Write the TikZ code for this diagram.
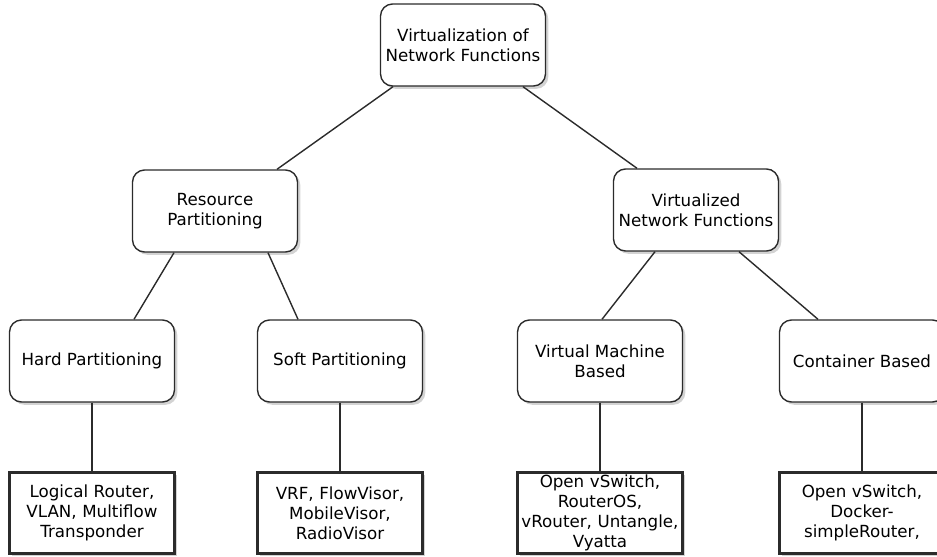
\documentclass[tikz,border=0pt]{standalone}
\usepackage{fontspec}
\setmainfont{DejaVu Sans}
\usepackage{tikz}
\usetikzlibrary{shadows}
\definecolor{linecolor}{HTML}{2B2B2B}

\begin{document}
\begin{tikzpicture}[x=0.02cm, y=-0.02cm,
  font=\fontsize{9.5}{11.5}\selectfont,
  catbox/.style={draw=linecolor, line width=0.8pt, fill=white, rounded corners=0.24cm,
    minimum width=3.3cm, minimum height=1.64cm, inner sep=0pt, align=center,
    drop shadow={shadow xshift=1.6pt, shadow yshift=-1.6pt, opacity=.35}},
  leafbox/.style={draw=linecolor, line width=1.6pt, fill=white,
    minimum width=3.3cm, minimum height=1.62cm, inner sep=0pt,
    text width=3.2cm, align=center,
    drop shadow={shadow xshift=1.6pt, shadow yshift=-1.6pt, opacity=.35}},
  link/.style={draw=linecolor, line width=0.8pt}]
  \useasboundingbox (0,0) rectangle (937,557);
  % top level
  \node[catbox] (root) at (463,45) {Virtualization of\\Network Functions};
  % second level
  \node[catbox] (res) at (215,211) {Resource\\Partitioning};
  \node[catbox] (vnf) at (696,210) {Virtualized\\Network Functions};
  % third level
  \node[catbox] (hard) at (92,361) {Hard Partitioning};
  \node[catbox] (soft) at (340,361) {Soft Partitioning};
  \node[catbox] (vm) at (600,361) {Virtual Machine\\Based};
  \node[catbox] (cont) at (862,361) {Container Based};
  % examples
  \node[leafbox] (hardex) at (92,513) {Logical Router,\\VLAN, Multiflow\\Transponder};
  \node[leafbox] (softex) at (340,513) {VRF, FlowVisor,\\MobileVisor,\\RadioVisor};
  \node[leafbox] (vmex) at (600,513) {Open vSwitch,\\RouterOS,\\vRouter, Untangle,\\Vyatta};
  \node[leafbox] (contex) at (862,513) {Open vSwitch,\\Docker-\\simpleRouter,};
  % links
  \draw[link] ([xshift=-1.4cm]root.south) -- ([xshift=1.24cm]res.north);
  \draw[link] ([xshift=1.2cm]root.south) -- ([xshift=-1.18cm]vnf.north);
  \draw[link] ([xshift=-0.82cm]res.south) -- ([xshift=0.84cm]hard.north);
  \draw[link] ([xshift=1.06cm]res.south) -- ([xshift=-0.84cm]soft.north);
  \draw[link] ([xshift=-0.82cm]vnf.south) -- ([xshift=0.04cm]vm.north);
  \draw[link] ([xshift=0.86cm]vnf.south) -- ([xshift=-0.88cm]cont.north);
  \draw[link] (hard) -- (hardex);
  \draw[link] (soft) -- (softex);
  \draw[link] (vm) -- (vmex);
  \draw[link] (cont) -- (contex);
\end{tikzpicture}
\end{document}
